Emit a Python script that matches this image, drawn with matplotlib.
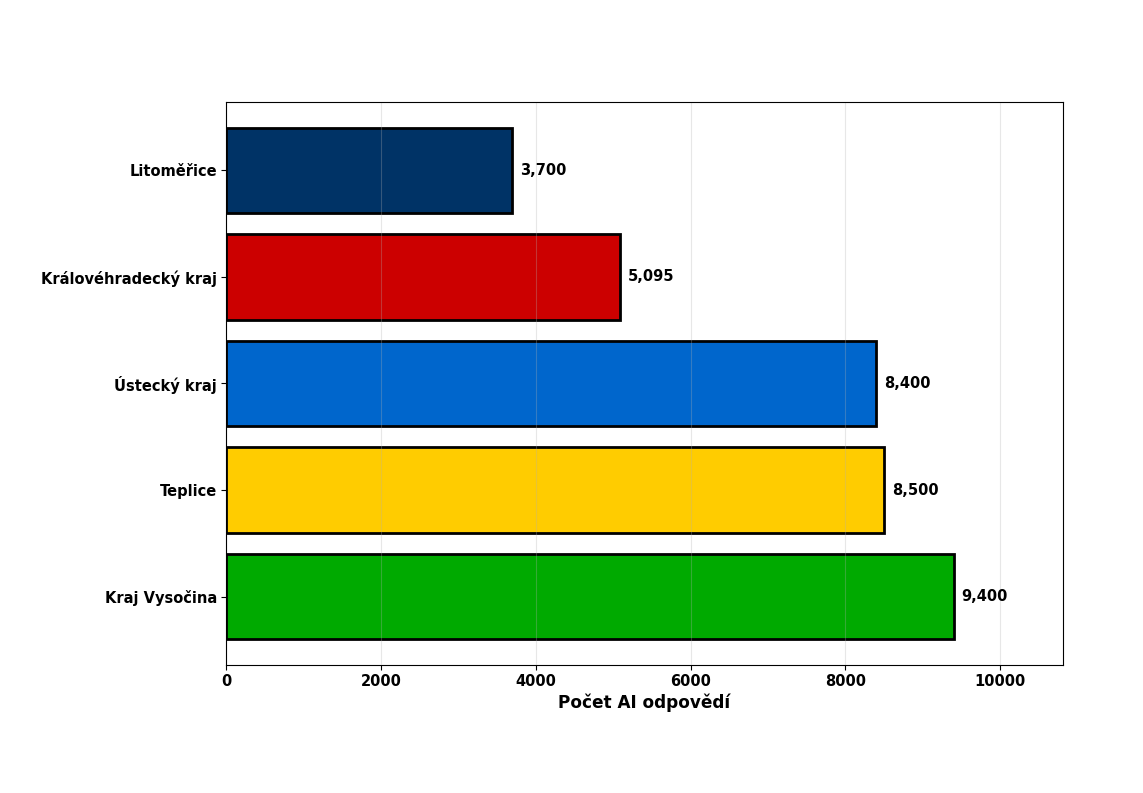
import matplotlib
matplotlib.use("Agg")
import matplotlib.pyplot as plt

# Data (bottom to top)
regions = ["Kraj Vysočina", "Teplice", "Ústecký kraj", "Královéhradecký kraj", "Litoměřice"]
responses = [9400, 8500, 8400, 5095, 3700]
bar_colors = ["#00AA00", "#FFCC00", "#0066CC", "#CC0000", "#003366"]

fig = plt.figure(figsize=(11.43, 7.93), dpi=100)
ax = fig.add_axes([0.1977, 0.1614, 0.7323, 0.71])

bars = ax.barh(regions, responses, color=bar_colors, edgecolor="black", linewidth=2, height=0.8)

# Popisky hodnot na konci sloupců
for bar, val in zip(bars, responses):
    ax.text(bar.get_width() + 100, bar.get_y() + bar.get_height() / 2, f"{val:,}",
            va="center", ha="left", fontsize=10.5, fontweight="bold")

ax.set_xlim(0, max(responses) * 1.15)
ax.set_xlabel("Počet AI odpovědí", fontsize=12.2, fontweight="bold", labelpad=3)
ax.grid(axis="x", alpha=0.3)
ax.tick_params(length=3.5, pad=3)

for lbl in ax.get_xticklabels() + ax.get_yticklabels():
    lbl.set_fontweight("bold")
    lbl.set_fontsize(10.5)

fig.savefig("out.png", dpi=100)
